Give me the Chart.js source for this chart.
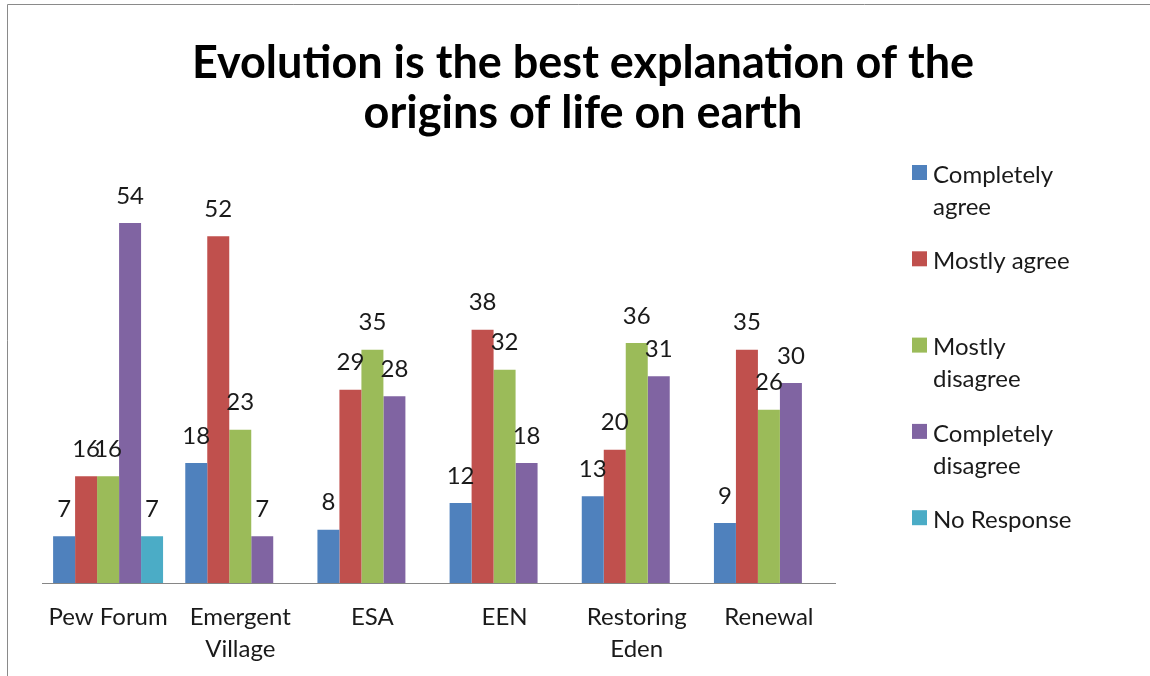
<!DOCTYPE html>
<html><head><meta charset="utf-8">
<script src="https://cdn.jsdelivr.net/npm/chart.js@4.4.1/dist/chart.umd.min.js"></script>
<style>html,body{margin:0;padding:0;background:#fff;}#wrap{position:relative;width:1150px;height:676px;}</style>
</head><body><div id="wrap"><canvas id="c" width="1150" height="676"></canvas></div>
<script>
const titleLines = ["Evolution is the best explanation of the", "origins of life on earth"];
const categories = ["Pew Forum", "Emergent Village", "ESA", "EEN", "Restoring Eden", "Renewal"];
const seriesNames = ["Completely agree", "Mostly agree", "Mostly disagree", "Completely disagree", "No Response"];
const completelyAgree = [7, 18, 8, 12, 13, 9];
const mostlyAgree = [16, 52, 29, 38, 20, 35];
const mostlyDisagree = [16, 23, 35, 32, 36, 26];
const completelyDisagree = [54, 7, 28, 18, 31, 30];
const noResponse = [7, null, null, null, null, null];
const seriesColors = ["#4F81BD", "#C0504D", "#9BBB59", "#8064A2", "#4BACC6"];
const yMin = 0, yMax = 60;

const FONT = "Lato";
const seriesValues = [completelyAgree, mostlyAgree, mostlyDisagree, completelyDisagree, noResponse];

const measureCtx = document.createElement('canvas').getContext('2d');
function wrap(text, font, maxW) {
  measureCtx.font = font;
  if (measureCtx.measureText(text).width <= maxW) return [text];
  const words = text.split(' ');
  const lines = []; let cur = '';
  for (const w of words) {
    const t = cur ? cur + ' ' + w : w;
    if (cur && measureCtx.measureText(t).width > maxW) { lines.push(cur); cur = w; } else cur = t;
  }
  if (cur) lines.push(cur);
  return lines;
}

const bgPlugin = {
  id: 'bg',
  beforeDraw(chart) {
    const ctx = chart.ctx;
    ctx.save();
    ctx.fillStyle = '#fff';
    ctx.fillRect(0, 0, chart.width, chart.height);
    ctx.strokeStyle = '#8a8a8a';
    ctx.lineWidth = 1;
    ctx.beginPath();
    ctx.moveTo(7.5, chart.height); ctx.lineTo(7.5, 4.5); ctx.lineTo(chart.width, 4.5);
    ctx.stroke();
    ctx.restore();
  }
};

const labelPlugin = {
  id: 'dataLabels',
  afterDatasetsDraw(chart) {
    const ctx = chart.ctx;
    ctx.save();
    ctx.font = `24px ${FONT}`;
    ctx.fillStyle = '#1a1a1a';
    ctx.textAlign = 'center';
    ctx.textBaseline = 'middle';
    chart.data.datasets.forEach((ds, i) => {
      const meta = chart.getDatasetMeta(i);
      meta.data.forEach((bar, j) => {
        const v = ds.data[j];
        if (v === null || v === undefined) return;
        ctx.fillText(String(v), bar.x, bar.y - 27);
      });
    });
    ctx.restore();
  }
};

const titleLegendPlugin = {
  id: 'titleLegend',
  afterDraw(chart) {
    const ctx = chart.ctx;
    ctx.save();
    ctx.fillStyle = '#000';
    ctx.textAlign = 'center';
    ctx.textBaseline = 'alphabetic';
    ctx.font = `bold 45px ${FONT}`;
    titleLines.forEach((t, i) => ctx.fillText(t, 583, 78 + i * 50));
    const lf = `24px ${FONT}`;
    ctx.font = lf;
    ctx.textAlign = 'left';
    ctx.textBaseline = 'middle';
    chart.data.datasets.forEach((ds, i) => {
      const y0 = 175 + i * 86.3;
      ctx.fillStyle = ds.backgroundColor;
      ctx.fillRect(912, y0 - 10, 15, 15);
      ctx.fillStyle = '#1a1a1a';
      wrap(ds.label, lf, 150).forEach((ln, k) => ctx.fillText(ln, 933, y0 + k * 32));
    });
    ctx.restore();
  }
};

new Chart(document.getElementById('c'), {
  type: 'bar',
  data: {
    labels: categories,
    datasets: seriesNames.map((name, i) => ({
      label: name,
      data: seriesValues[i],
      backgroundColor: seriesColors[i],
      borderWidth: 0,
      categoryPercentage: 0.832,
      barPercentage: 1.0
    }))
  },
  options: {
    responsive: false,
    devicePixelRatio: 1,
    animation: false,
    layout: { padding: { left: 42, right: 315, top: 183, bottom: 0 } },
    plugins: { legend: { display: false }, title: { display: false }, tooltip: { enabled: false } },
    scales: {
      y: { display: false, min: yMin, max: yMax },
      x: {
        grid: { display: false, drawTicks: false },
        border: { display: true, color: '#868686', width: 1 },
        afterFit: function(scale) { scale.height = 93; },
        ticks: {
          color: '#1a1a1a',
          font: { family: FONT, size: 24, lineHeight: 1.33 },
          padding: 18,
          maxRotation: 0, minRotation: 0, autoSkip: false,
          callback: function(value) { return wrap(categories[value], `24px ${FONT}`, 128); }
        }
      }
    }
  },
  plugins: [bgPlugin, labelPlugin, titleLegendPlugin]
});
</script></body></html>
